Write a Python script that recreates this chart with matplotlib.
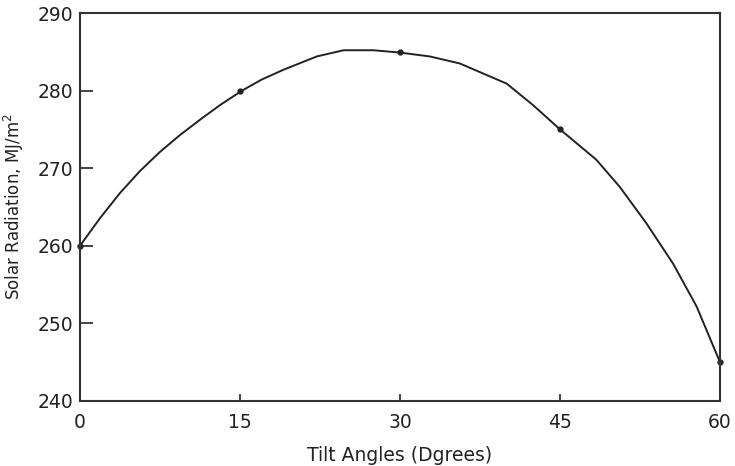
import numpy as np
from matplotlib import pyplot as plt

# measured points
tilt = [0, 15, 30, 45, 60]
radiation = [260, 280, 285, 275, 245]

# smooth curve
curve_x = [0, 1.9, 3.75, 5.6, 7.5, 9.4, 11.5, 13.2, 15.2, 17.0, 19.1, 22.2, 24.7,
           27.5, 30.0, 32.8, 35.6, 37.8, 40.0, 42.5, 45.0, 48.4, 50.6, 53.1,
           55.6, 57.8, 60.0]
curve_y = [260.0, 263.6, 266.8, 269.6, 272.1, 274.3, 276.5, 278.2, 280.0, 281.4,
           282.7, 284.4, 285.2, 285.2, 284.9, 284.4, 283.5, 282.2, 280.9, 278.1,
           275.0, 271.1, 267.6, 262.9, 257.7, 252.2, 245.0]

xticks = [0, 15, 30, 45, 60]
yticks = [240, 250, 260, 270, 280, 290]

plt.rcParams['font.family'] = ['DejaVu Sans']

fig = plt.figure(figsize=(7.35, 4.66), dpi=100)
ax = fig.add_axes([0.1088, 0.1395, 0.8708, 0.8326])

ink = '#222222'
ax.plot(curve_x, curve_y, color=ink, lw=1.4, clip_on=False)
ax.plot(tilt, radiation, 'o', color=ink, ms=3.5, clip_on=False)

ax.set_xlim(0, 60)
ax.set_ylim(240, 290)
ax.set_xticks(xticks)
ax.set_yticks(yticks)
ax.tick_params(axis='y', direction='in', length=9, width=1.2, colors=ink,
               labelsize=13.5, pad=5)
ax.tick_params(axis='x', direction='in', length=5, width=1.2, colors=ink,
               labelsize=13.5, pad=9)
for s in ax.spines.values():
    s.set_linewidth(1.5)
    s.set_color('#333333')

ax.set_xlabel('Tilt Angles (Dgrees)', fontsize=13.5, color=ink, labelpad=10)
ax.set_ylabel('Solar Radiation, MJ/m$^2$', fontsize=12, color=ink, labelpad=8)

plt.savefig('out.png', dpi=100)
